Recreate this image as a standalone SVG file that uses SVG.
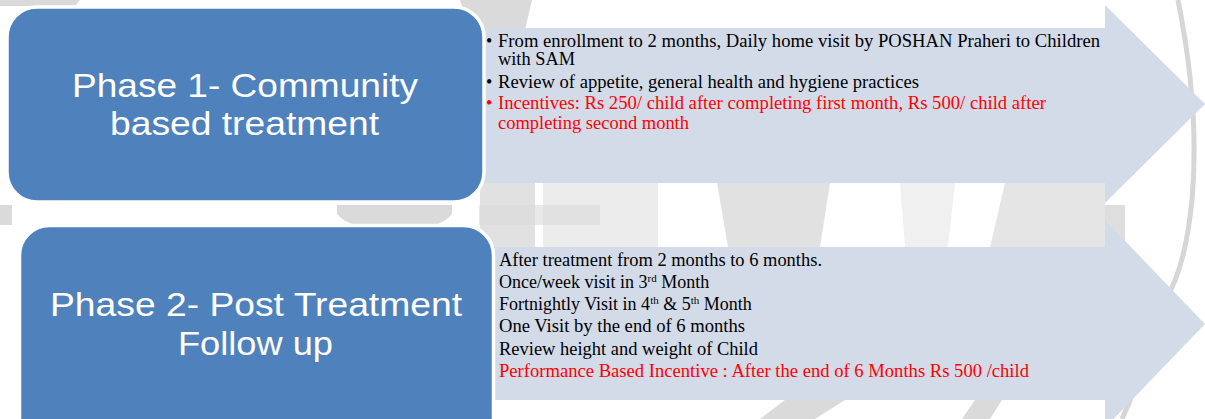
<svg xmlns="http://www.w3.org/2000/svg" width="1205" height="419" viewBox="0 0 1205 419">
<style>
.wm{fill:#dadada}
.wmr{fill:none;stroke:#d6d6d6;stroke-width:5}
.arrow{fill:#d3dbe9}
.box{fill:#4f81bd;stroke:#ffffff;stroke-width:3.5}
.title{font-family:"Liberation Sans",Arial,sans-serif;font-size:33px;fill:#ffffff;text-anchor:start}
.body{font-family:"Liberation Serif","Times New Roman",serif;font-size:18px;fill:#000000}
.red{fill:#ff0000}
.sup{font-size:11px}
</style>
<rect width="1205" height="419" fill="#ffffff"/>
<g id="watermark">
<path class="wmr" d="M1178 0 Q1200 110 1192 200 Q1185 270 1165 300"/>
<path class="wmr" d="M1150 350 Q1135 390 1122 419"/>
<polygon class="wm" points="460,0 532,0 525,30 470,30"/>
<polygon class="wm" points="0,0 80,0 75,6 0,6"/>
<rect class="wm" x="0" y="205" width="12" height="20"/>
<path class="wm" d="M337 205 H452 V214 Q440 230 395 230 Q350 230 337 214 Z"/>
<rect class="wm" x="479" y="205" width="121" height="20" opacity="0.6"/>
<rect class="wm" x="480" y="183" width="55" height="64" opacity="0.8"/>
<rect class="wm" x="543" y="183" width="115" height="64" opacity="0.5"/>
<polygon class="wm" points="717,183 830,183 820,247 728,247" opacity="0.8"/>
<polygon class="wm" points="900,183 955,183 948,247 905,247" opacity="0.4"/>
<polygon class="wm" points="1005,183 1105,183 1105,247 990,247" opacity="0.7"/>
<rect class="wm" x="1105" y="205" width="20" height="40" opacity="0.9"/>
<polygon class="wm" points="760,419 785,400 845,400 815,419"/>
<polygon class="wm" points="962,419 975,400 1002,400 990,419"/>
</g>
<g id="connectors">
<path id="arrow1" class="arrow" d="M470 28 H1105 V5 L1205 104 L1105 203 V183 H470 Z"/>
<path id="arrow2" class="arrow" d="M470 247 H1105 V220 L1205 324 L1105 428 V400 H470 Z"/>
</g>
<g id="phase1">
<rect class="box" x="7" y="7" width="477" height="195" rx="30" ry="30"/>
<text class="title" x="72" y="97" textLength="346" lengthAdjust="spacingAndGlyphs">Phase 1- Community</text>
<text class="title" x="110" y="135" textLength="269" lengthAdjust="spacingAndGlyphs">based treatment</text>
</g>
<g id="phase1-details">
<text class="body" x="486" y="46.5">•</text>
<text class="body" x="498" y="46.5" textLength="602" lengthAdjust="spacingAndGlyphs">From enrollment to 2 months, Daily home visit by POSHAN Praheri to Children</text>
<text class="body" x="498" y="65" textLength="77" lengthAdjust="spacingAndGlyphs">with SAM</text>
<text class="body" x="486" y="88">•</text>
<text class="body" x="498" y="88" textLength="421" lengthAdjust="spacingAndGlyphs">Review of appetite, general health and hygiene practices</text>
<text class="body red" x="486" y="109">•</text>
<text class="body red" x="498" y="109" textLength="548" lengthAdjust="spacingAndGlyphs">Incentives: Rs 250/ child after completing first month, Rs 500/ child after</text>
<text class="body red" x="498" y="129" textLength="191" lengthAdjust="spacingAndGlyphs">completing second month</text>
</g>
<g id="phase2">
<rect class="box" x="19.5" y="225.5" width="474" height="222" rx="30" ry="30"/>
<text class="title" x="50" y="316" textLength="412" lengthAdjust="spacingAndGlyphs">Phase 2- Post Treatment</text>
<text class="title" x="178" y="355" textLength="155" lengthAdjust="spacingAndGlyphs">Follow up</text>
</g>
<g id="phase2-details">
<text class="body" x="499" y="266" textLength="323" lengthAdjust="spacingAndGlyphs">After treatment from 2 months to 6 months.</text>
<text class="body" x="499" y="288">Once/week visit in 3<tspan class="sup" dy="-6">rd</tspan><tspan dy="6"> Month</tspan></text>
<text class="body" x="499" y="310">Fortnightly Visit in 4<tspan class="sup" dy="-6">th</tspan><tspan dy="6"> &amp; 5</tspan><tspan class="sup" dy="-6">th</tspan><tspan dy="6"> Month</tspan></text>
<text class="body" x="499" y="332" textLength="246" lengthAdjust="spacingAndGlyphs">One Visit by the end of 6 months</text>
<text class="body" x="499" y="355" textLength="259" lengthAdjust="spacingAndGlyphs">Review height and weight of Child</text>
<text class="body red" x="499" y="377" textLength="530" lengthAdjust="spacingAndGlyphs">Performance Based Incentive : After the end of 6 Months Rs 500 /child</text>
</g>
</svg>
